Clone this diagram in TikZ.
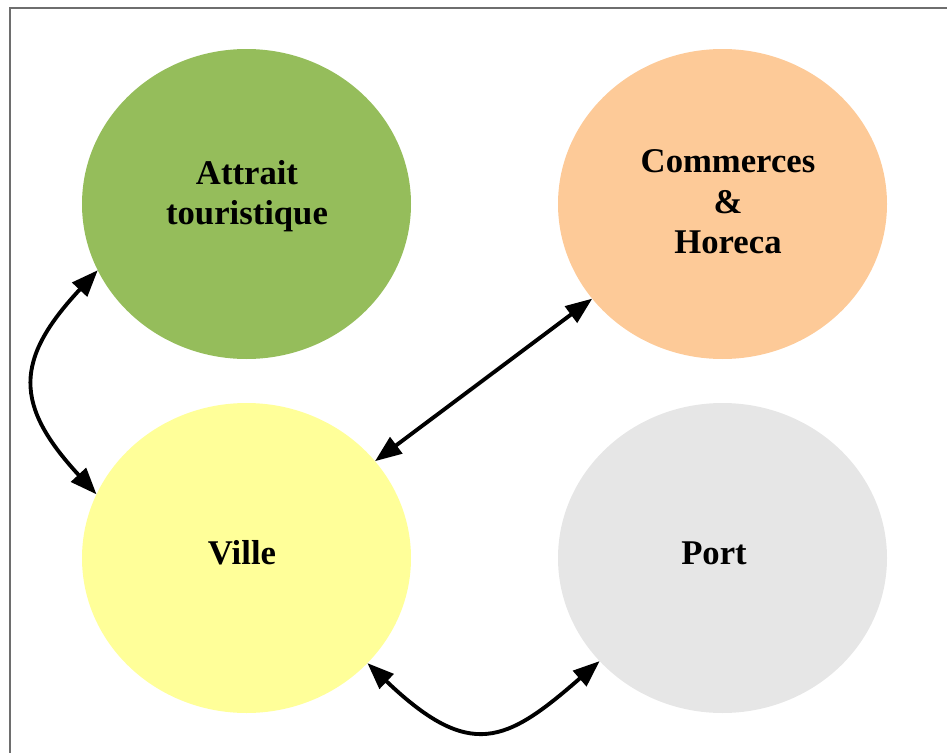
\documentclass[tikz,border=0pt]{standalone}
\usepackage{fontspec}
\setmainfont{Liberation Serif}
\usetikzlibrary{shapes.geometric,arrows.meta}
\definecolor{cgreen}{HTML}{95BD5B}
\definecolor{corange}{HTML}{FDCA98}
\definecolor{cyellow}{HTML}{FFFF99}
\definecolor{cgray}{HTML}{E6E6E6}
\definecolor{cframe}{HTML}{6E6E6E}
\tikzset{
  bubble/.style={ellipse, draw=none, minimum width=246.75pt, minimum height=232.5pt,
    inner sep=0pt, outer sep=0pt},
  lab/.style={align=center, inner sep=0pt, font=\bfseries\fontsize{26}{29.5}\selectfont},
  link/.style={line width=2.9pt, {Triangle[length=20pt,width=15pt]}-{Triangle[length=20pt,width=15pt]}}
}
\begin{document}
\begin{tikzpicture}[x=0.75pt,y=-0.75pt]
\path[use as bounding box] (0,0) rectangle (947,753);
\draw[cframe, line width=1.6pt] (10,760) -- (10,8) -- (960,8);
\node[bubble, fill=cgreen] (att) at (246.5,204) {};
\node[bubble, fill=corange] (com) at (722.5,204) {};
\node[bubble, fill=cyellow] (vil) at (246.5,558) {};
\node[bubble, fill=cgray] (por) at (722.5,558) {};
\node[lab] (attl) at (247,196) {Attrait\\touristique};
\node[lab, font=\bfseries\fontsize{26}{30.5}\selectfont] (coml) at (728,202) {Commerces\\\&\\Horeca};
\node[lab] (vill) at (242,553) {Ville};
\node[lab] (porl) at (714,553) {Port};
\draw[link] (att.204) .. controls (14,360) and (14,405) .. (vil.157);
\draw[link] (com.216) -- (vil.37);
\draw[link] (vil.-41) .. controls (470,761) and (506,743) .. (por.220);
\end{tikzpicture}
\end{document}
